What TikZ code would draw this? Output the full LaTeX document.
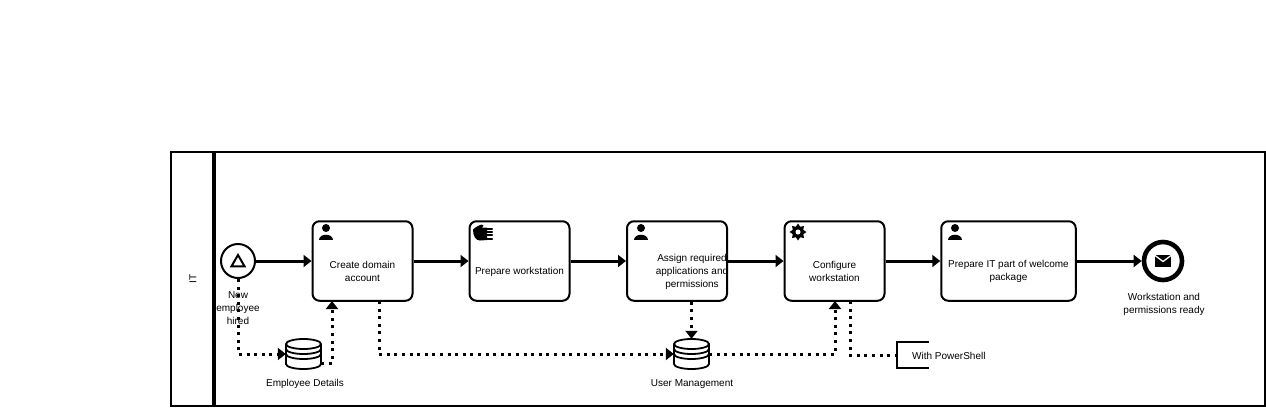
\documentclass[tikz,border=0pt]{standalone}
\usepackage{fontspec}
\setmainfont{Liberation Sans}
\usetikzlibrary{arrows.meta,shapes.geometric}

\tikzset{
	taskbox/.style={draw,line width=2pt,rounded corners=7pt,inner sep=0pt},
	eventlabel/.style={align=center,inner sep=0pt,font=\fontsize{10}{13}\selectfont},
	flow/.style={-{Triangle[length=8pt,width=12pt]},line width=3pt},
	assoc/.style={line width=3pt,dash pattern=on 3pt off 4.6pt},
	assocend/.style={assoc,-{Triangle[length=8pt,width=12pt]}},
	storebox/.style={minimum width=35pt,minimum height=30pt,inner sep=0pt},
	usericon/.pic={
		\fill (0,-7) circle (4pt);
		\fill (-7,5) .. controls (-7,-2) and (7,-2) .. (7,5) -- cycle;
	},
	handicon/.pic={
		\fill (-10,-3) .. controls (-8,-5) and (-3,-8) .. (-1,-8) .. controls (1,-8) and (1,-6) .. (-1,-5)
			-- (4,-5) -- (4,7.5) -- (-3,8) .. controls (-7,8) and (-10,4) .. cycle;
		\foreach \y in {-3.5,-0.3,2.9,6.1}
			\draw[line width=2.1pt,line cap=round] (2,\y) -- (9,\y);
	},
	mailicon/.pic={
		\fill (-8,-6) rectangle (8,6);
		\draw[white,line width=1.3pt] (-8,-5) -- (0,1) -- (8,-5);
	},
	storeicon/.pic={
		\draw[line width=1.8pt,fill=white] (-17.5,-10) -- (-17.5,10) arc[start angle=180,end angle=360,x radius=17.5pt,y radius=5pt]
			-- (17.5,-10) arc[start angle=0,end angle=180,x radius=17.5pt,y radius=5pt] -- cycle;
		\draw[line width=1.8pt] (-17.5,-10) arc[start angle=180,end angle=360,x radius=17.5pt,y radius=5pt];
		\draw[line width=1.8pt] (-17.5,-5) arc[start angle=180,end angle=360,x radius=17.5pt,y radius=5pt];
		\draw[line width=1.8pt] (-17.5,0) arc[start angle=180,end angle=360,x radius=17.5pt,y radius=5pt];
	}
}

\begin{document}
\begin{tikzpicture}[x=1pt,y=-1pt,font=\fontsize{10}{13}\selectfont]
	\useasboundingbox (0,0) rectangle (1266,408);

	% pool
	\node[draw,line width=2pt,minimum width=1094pt,minimum height=254pt,inner sep=0pt] at (718,279) (pool) {};
	\coordinate (lanetop) at (214,152);
	\coordinate (lanebot) at (214,406);
	\draw[line width=3.2pt] (lanetop) -- (lanebot);
	\node[rotate=90,inner sep=0pt] at (193,279) (lane) {IT};

	% events
	\node[draw,circle,line width=2pt,minimum size=34pt,inner sep=0pt] at (238,261) (start) {};
	\node[draw,regular polygon,regular polygon sides=3,line width=2pt,minimum size=15pt,inner sep=0pt] at (238,262.5) (starttri) {};
	\node[eventlabel] at (238,308.5) (startlabel) {New\\employee\\hired};
	\node[draw,circle,line width=4.6pt,minimum size=38pt,inner sep=0pt] at (1163,261) (finish) {};
	\pic at (1163,260.5) {mailicon};
	\node[eventlabel] at (1164,304) (finishlabel) {Workstation and\\permissions ready};

	% tasks
	\node[taskbox,minimum width=100pt,minimum height=79.5pt] at (362.5,261) (createacc) {};
	\node[taskbox,minimum width=100pt,minimum height=79.5pt] at (519.5,261) (prepare) {};
	\node[taskbox,minimum width=100pt,minimum height=79.5pt] at (677,261) (assign) {};
	\node[taskbox,minimum width=100pt,minimum height=79.5pt] at (834.5,261) (configure) {};
	\node[taskbox,minimum width=134.5pt,minimum height=79.5pt] at (1008.5,261) (package) {};
	\node[eventlabel] at (362.5,271.5) (createtxt) {Create domain\\account};
	\node[eventlabel] at (519.5,272) (preparetxt) {Prepare workstation};
	\node[eventlabel] at (692,271.5) (assigntxt) {Assign required\\applications and\\permissions};
	\node[eventlabel] at (834.5,271.5) (configtxt) {Configure\\workstation};
	\node[eventlabel] at (1008.5,271.5) (packagetxt) {Prepare IT part of welcome\\package};

	\pic at (326,235) {usericon};
	\pic at (483,232.5) {handicon};
	\pic at (641,235) {usericon};
	\pic at (955,235) {usericon};
	\node[fill,star,star points=8,star point ratio=1.5,minimum size=17pt,inner sep=0pt] at (798,232) (gear) {};
	\node[fill=white,circle,minimum size=5pt,inner sep=0pt] at (798,232) (gearhole) {};

	% data stores
	\node[storebox] at (303.5,354) (details) {};
	\pic at (303.5,354) {storeicon};
	\node[inner sep=0pt] at (305,383.5) (detailslabel) {Employee Details};
	\node[storebox] at (691.5,354) (usermgmt) {};
	\pic at (691.5,354) {storeicon};
	\node[inner sep=0pt] at (692,384.5) (usermgmtlabel) {User Management};

	% annotation
	\node[minimum width=32pt,minimum height=25pt,inner sep=0pt] at (913,355) (note) {};
	\draw[line width=2pt] (note.north east) -- (note.north west) -- (note.south west) -- (note.south east);
	\node[anchor=west,inner sep=0pt] at (912,355.5) (notetxt) {With PowerShell};

	% sequence flows
	\draw[flow] (start) -- (createacc);
	\draw[flow] (createacc) -- (prepare);
	\draw[flow] (prepare) -- (assign);
	\draw[flow] (assign) -- (configure);
	\draw[flow] (configure) -- (package);
	\draw[flow] (package) -- (finish);

	% data associations
	\coordinate (detailsout) at (321,363);
	\coordinate (detailsin) at (332,301);
	\coordinate (createout) at (379,301);
	\coordinate (configin) at (835,301);
	\coordinate (configout) at (850,301);
	\draw[assocend] (start.south) |- (details.west);
	\draw[assocend] (detailsout) -| (detailsin);
	\draw[assocend] (createout) |- (usermgmt.west);
	\draw[assocend] (assign.south -| usermgmt.north) -- (usermgmt.north);
	\draw[assocend] (usermgmt.east) -| (configin);
	\draw[assoc] (configout) |- (note.west);
\end{tikzpicture}
\end{document}
